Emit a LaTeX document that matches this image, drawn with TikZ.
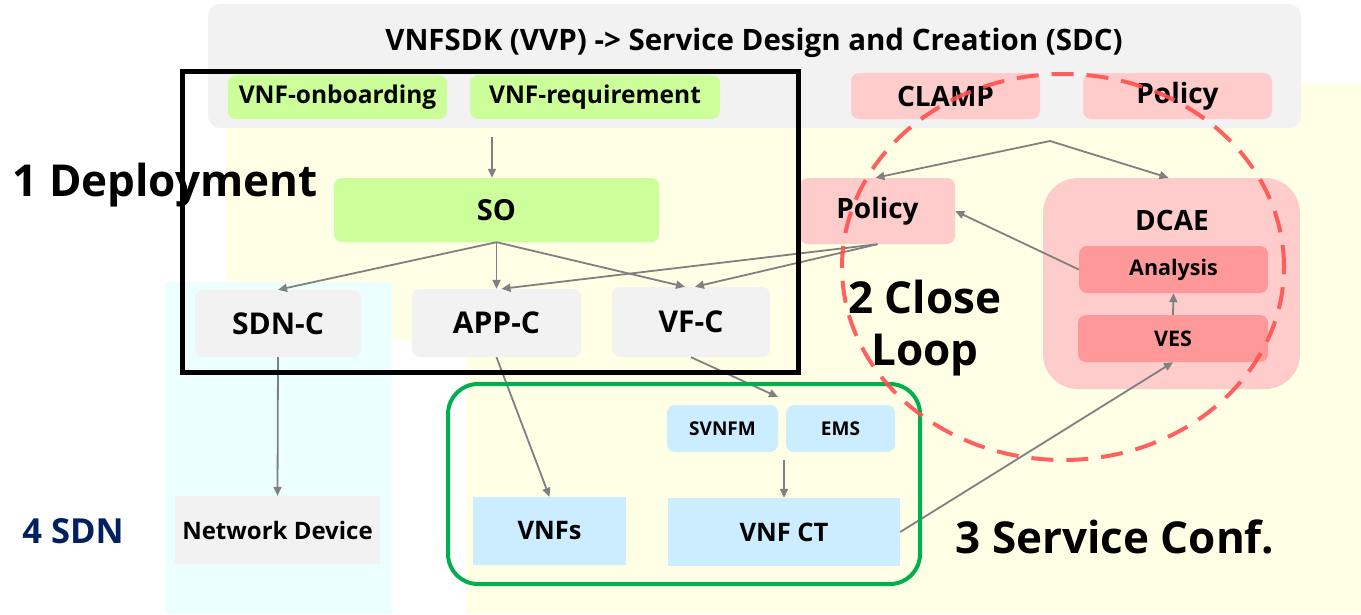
\documentclass[tikz,border=0pt]{standalone}
\usepackage{fontspec}
\setmainfont{Open Sans}
\usetikzlibrary{arrows.meta,positioning}
\definecolor{ylw}{RGB}{255,255,229}
\definecolor{cyn}{RGB}{236,255,255}
\definecolor{gry}{RGB}{242,242,242}
\definecolor{grn}{RGB}{204,255,153}
\definecolor{pnk}{RGB}{255,204,204}
\definecolor{dpnk}{RGB}{255,153,153}
\definecolor{lblu}{RGB}{204,236,255}
\definecolor{navy}{RGB}{0,32,96}
\definecolor{bord}{RGB}{0,176,80}
\definecolor{rdash}{RGB}{255,80,80}
\definecolor{arrg}{RGB}{128,128,128}
\newcommand{\fsz}[1]{\fontsize{#1}{#1}\selectfont\bfseries}
\tikzset{
  box/.style={rounded corners=8pt, inner sep=0pt, text=black},
  sqbox/.style={inner sep=0pt, text=black},
  arr/.style={draw=arrg, line width=1.8pt, -{Triangle[length=9pt,width=8pt]}},
  biglabel/.style={font=\fsz{44}, inner sep=0pt, align=center},
}
\begin{document}
\begin{tikzpicture}[x=1pt,y=-1pt]
\useasboundingbox (0,0) rectangle (1361,614);
% backgrounds
\fill[ylw] (226,84) rectangle (1361,340);
\fill[ylw] (466,340) rectangle (1361,614);
\fill[cyn] (166,282) rectangle (392,614);
\fill[gry, rounded corners=12pt] (208,4) rectangle (1301,128);
\node[font=\fsz{29.5}, inner sep=0pt] (title) at (754,43) {VNFSDK (VVP) -> Service Design and Creation (SDC)};
% top row
\node[box, fill=grn, minimum width=219pt, minimum height=44pt, font=\fsz{24.5}] (onb) at (337.5,97) {VNF-onboarding};
\node[box, fill=grn, minimum width=250pt, minimum height=44pt, font=\fsz{24.5}] (req) at (595,97) {VNF-requirement};
\node[box, fill=pnk, minimum width=189pt, minimum height=46pt, font=\fsz{28}] (clamp) at (945.5,96) {CLAMP};
\node[box, fill=pnk, minimum width=189pt, minimum height=46pt, font=\fsz{28}] (pol1) at (1177.5,96) {Policy};
% middle
\node[box, fill=grn, minimum width=325pt, minimum height=64pt, font=\fsz{29}] (so) at (496.5,210) {SO};
\node[box, fill=pnk, minimum width=155pt, minimum height=66pt, font=\fsz{28}] (pol2) at (877.5,211) {Policy};
\node[fill=pnk, rounded corners=35pt, minimum width=257pt, minimum height=211pt, inner sep=0pt] (dcae) at (1171.5,283.5) {};
\node[font=\fsz{28}, inner sep=0pt] (dcaelbl) at (1172,220) {DCAE};
\node[box, fill=dpnk, minimum width=189pt, minimum height=47pt, font=\fsz{21.5}] (ana) at (1173.5,269.5) {Analysis};
\node[box, fill=dpnk, minimum width=190pt, minimum height=47pt, font=\fsz{21.5}] (ves) at (1173,338.5) {VES};
% controllers
\node[box, fill=gry, minimum width=166pt, minimum height=67pt, font=\fsz{30}] (sdnc) at (278,323.5) {SDN-C};
\node[box, fill=gry, minimum width=169pt, minimum height=68pt, font=\fsz{30}] (appc) at (496.5,323) {APP-C};
\node[box, fill=gry, minimum width=158pt, minimum height=70pt, font=\fsz{30}] (vfc) at (691,322) {VF-C};
% bottom
\node[box, fill=lblu, minimum width=111pt, minimum height=47pt, font=\fsz{19}] (svnfm) at (722.5,428.5) {SVNFM};
\node[box, fill=lblu, minimum width=109pt, minimum height=47pt, font=\fsz{19}] (ems) at (840.5,428.5) {EMS};
\node[sqbox, fill=lblu, minimum width=153pt, minimum height=68pt, font=\fsz{25.5}] (vnfs) at (549.5,531) {VNFs};
\node[sqbox, fill=lblu, minimum width=232pt, minimum height=68pt, font=\fsz{25.5}] (vnfct) at (784,532) {VNF CT};
\node[sqbox, fill=gry, minimum width=205pt, minimum height=68pt, font=\fsz{24}] (netdev) at (277.5,530) {Network Device};
% connector helper coordinates
\coordinate (reqout) at (492,137);
\coordinate (jn) at (1050,141);
\coordinate (vfcend) at (778,397);
\coordinate (emsout) at (784,460);
% arrows
\draw[arr] (reqout) -- (reqout |- so.north);
\draw[arr] (so.south) -- (sdnc.north);
\draw[arr] (so.south) -- (appc.north);
\draw[arr] (so.south) -- ([xshift=-6pt]vfc.north);
\draw[arr] (pol2.south) -- ([xshift=5pt]appc.north);
\draw[arr] (pol2.south) -- ([xshift=4pt]vfc.north);
\draw[arr] (jn) -- ([xshift=-2pt]pol2.north);
\draw[arr] (jn) -- ([xshift=-3pt]dcae.north);
\draw[arr] (ana.west) -- (pol2.east);
\draw[arr] (ves.north) -- (ana.south);
\draw[arr] (vnfct.east) -- (ves.south);
\draw[arr] (sdnc.south) -- (netdev.north);
\draw[arr] (appc.south) -- (vnfs.north);
\draw[arr] (vfc.south) -- (vfcend);
\draw[arr] (emsout) -- (vnfct.north);
% frames
\node[draw=black, line width=5pt, minimum width=616pt, minimum height=301pt, inner sep=0pt] (deploy) at (490,221.5) {};
\node[draw=bord, line width=4pt, rounded corners=30pt, minimum width=472pt, minimum height=200pt, inner sep=0pt] (svc) at (684,484) {};
\draw[draw=rdash, draw opacity=0.9, line width=4pt, dash pattern=on 22pt off 13pt] (1063,267) ellipse [x radius=221pt, y radius=193pt];
% labels
\node[biglabel] (l1) at (165,185) {1 Deployment};
\node[biglabel] (l2) at (925,328) {2 Close\\[8pt]Loop};
\node[biglabel] (l3) at (1115,537) {3 Service Conf.};
\node[font=\fsz{34.5}, text=navy, inner sep=0pt] (l4) at (73,531) {4 SDN};
\end{tikzpicture}
\end{document}
